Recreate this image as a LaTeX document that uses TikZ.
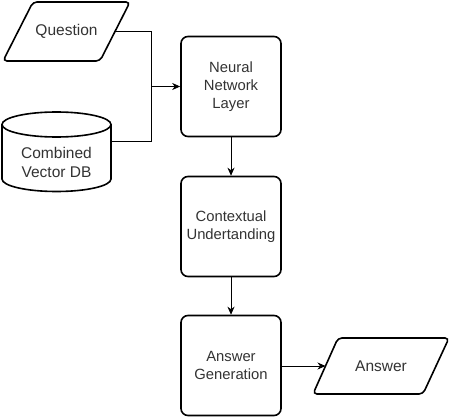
\documentclass[tikz,border=0pt]{standalone}
\usepackage{fontspec}
\setmainfont{Liberation Sans}
\usetikzlibrary{arrows.meta}
\begin{document}
\begin{tikzpicture}[x=1pt,y=1pt,
  shapeline/.style={line width=1.6pt, draw=black},
  procbox/.style={shapeline, rounded corners=7pt, minimum width=100pt, minimum height=100pt, align=center, text=black!80, font=\fontsize{14.8}{18}\selectfont, fill=white, inner sep=0pt},
  iotext/.style={align=center, text=black!80, font=\fontsize{15.5}{19}\selectfont, inner sep=0pt},
  conn/.style={line width=0.8pt, draw=black},
  arr/.style={conn, -{Stealth[length=8pt,width=7pt,inset=2.5pt]}}]
\useasboundingbox (0,0) rectangle (452,-417);
% Question parallelogram
\draw[shapeline, rounded corners=4pt, fill=white] (33,-2) -- (130,-2) -- (100,-61) -- (3,-61) -- cycle;
\node[iotext] (q) at (66.5,-31.5) {Question};
\coordinate (qR) at (116,-31.5);
% Cylinder
\draw[shapeline, fill=white] (2,-124.5) -- (2,-179) arc[start angle=180, end angle=360, x radius=54.5, y radius=12.5] -- (111,-124.5) arc[start angle=0, end angle=180, x radius=54.5, y radius=12.5] -- cycle;
\draw[shapeline] (2,-124.5) arc[start angle=180, end angle=360, x radius=54.5, y radius=12.5];
\node[iotext] (db) at (56.5,-162) {Combined\\Vector DB};
\coordinate (dbR) at (111,-141);
% Process boxes
\node[procbox] (nn) at (231,-86.5) {Neural\\Network\\Layer};
\node[procbox] (cu) at (231,-226.5) {Contextual\\Undertanding};
\node[procbox] (ag) at (231,-365.5) {Answer\\Generation};
% Answer parallelogram
\draw[shapeline, rounded corners=4pt, fill=white] (338,-338) -- (449,-338) -- (423,-394) -- (313,-394) -- cycle;
\node[iotext] (ans) at (381,-366) {Answer};
\coordinate (ansL) at (325.5,-366);
% Connectors
\coordinate (jn) at (151,-86.5);
\draw[conn] (qR) -| (jn);
\draw[conn] (dbR) -| (jn);
\draw[arr] (jn) -- (nn.west);
\draw[arr] (nn.south) -- (cu.north);
\draw[arr] (cu.south) -- (ag.north);
\draw[arr] (ag.east |- ansL) -- (ansL);
\end{tikzpicture}
\end{document}
